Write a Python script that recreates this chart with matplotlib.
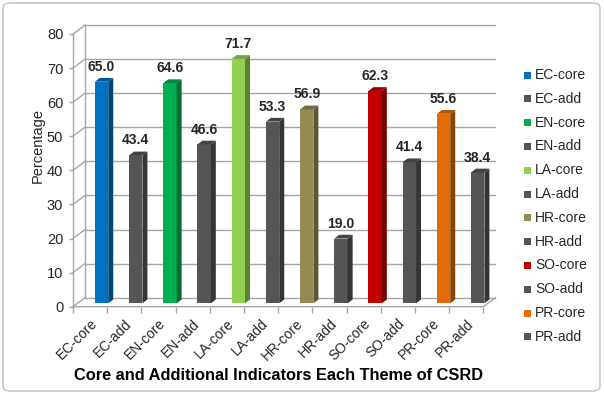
import matplotlib
matplotlib.use("Agg")
import matplotlib.pyplot as plt
from matplotlib.patches import Polygon, Rectangle, FancyBboxPatch
import matplotlib.colors as mcolors
import numpy as np

plt.rcParams['font.family'] = ['Liberation Sans', 'DejaVu Sans']

categories = ["EC-core", "EC-add", "EN-core", "EN-add", "LA-core", "LA-add",
              "HR-core", "HR-add", "SO-core", "SO-add", "PR-core", "PR-add"]
values = [65.0, 43.4, 64.6, 46.6, 71.7, 53.3, 56.9, 19.0, 62.3, 41.4, 55.6, 38.4]
colors = ["#0070C0", "#555555", "#00B050", "#555555", "#92D050", "#555555",
          "#948A54", "#555555", "#C00000", "#555555", "#E36C09", "#555555"]
y_ticks = [0, 10, 20, 30, 40, 50, 60, 70, 80]
xlabel = "Core and Additional Indicators Each Theme of CSRD"
ylabel = "Percentage"

W, H = 604, 394
fig = plt.figure(figsize=(W / 100, H / 100), dpi=100)

# chart border
fig.patches.append(FancyBboxPatch((3 / W, 3 / H), 597 / W, 388 / H,
                                  boxstyle="round,pad=0,rounding_size=0.012",
                                  transform=fig.transFigure, fc="none",
                                  ec="#bfbfbf", lw=1.0, zorder=-1))

ax = fig.add_axes([73 / W, (H - 306.7) / H, 410.4 / W, 272.7 / H])
ax.set_facecolor("none")
ax.set_xlim(-0.5, 11.5)
ax.set_ylim(0, 80)
for s in ax.spines.values():
    s.set_visible(False)

n = len(categories)
DX, DY = 0.351, 2.64          # full depth of the floor / walls
grid_c = "#a6a6a6"

# back wall gridlines and left wall diagonals
for v in y_ticks:
    ax.plot([-0.5 + DX, n - 0.5 + DX], [v + DY, v + DY], color=grid_c, lw=1.0,
            clip_on=False, zorder=1)
    ax.plot([-0.5, -0.5 + DX], [v, v + DY], color=grid_c, lw=1.0, clip_on=False, zorder=1)
ax.plot([-0.5 + DX, -0.5 + DX], [DY, y_ticks[-1] + DY], color=grid_c, lw=1.0,
        clip_on=False, zorder=1)
ax.plot([-0.5, -0.5], [0, y_ticks[-1]], color=grid_c, lw=1.0, clip_on=False, zorder=1)
# floor
ax.plot([-0.5, n - 0.5, n - 0.5 + DX], [0, 0, DY], color=grid_c, lw=1.0,
        clip_on=False, zorder=1)

# bars with pseudo 3D
x = np.arange(n)
off_x, off_y = 0.14, 1.0
bw = 0.39
sx, sy = 0.146, 1.1
ax.bar(x + off_x, values, width=bw, bottom=off_y, align="edge", color=colors,
       edgecolor="none", zorder=3, clip_on=False)
for xi, v, c in zip(x, values, colors):
    rgb = np.array(mcolors.to_rgb(c))
    side = rgb * 0.62
    top = rgb * 0.78
    x0 = xi + off_x
    x1 = x0 + bw
    yb = off_y
    yt = off_y + v
    ax.add_patch(Polygon([[x1, yb], [x1 + sx, yb + sy], [x1 + sx, yt + sy], [x1, yt]],
                         closed=True, fc=side, ec="none", zorder=3, clip_on=False))
    ax.add_patch(Polygon([[x0, yt], [x1, yt], [x1 + sx, yt + sy], [x0 + sx, yt + sy]],
                         closed=True, fc=top, ec="none", zorder=3, clip_on=False))
    ax.annotate(f"{v:.1f}", xy=(x0 + bw / 2, yt + sy), xytext=(0, 8),
                textcoords="offset points", ha="center", va="center",
                fontsize=10, fontweight="bold", color="#262626", zorder=5,
                annotation_clip=False)

# ticks
ax.set_yticks(y_ticks)
ax.set_yticklabels([str(t) for t in y_ticks], fontsize=10.5, color="#262626")
ax.tick_params(axis="y", length=3, width=1, color=grid_c, pad=4)
ax.set_xticks(x)
ax.set_xticklabels(categories, rotation=45, ha="right", rotation_mode="anchor",
                   fontsize=10, color="#262626")
ax.tick_params(axis="x", which="major", length=0, pad=7)
ax.set_xticks(np.arange(-0.5, n, 1.0), minor=True)
ax.tick_params(axis="x", which="minor", length=4, width=1, color=grid_c)

fig.text(279 / W, 1 - 376 / H, xlabel, ha="center", va="center", fontsize=11.8,
         fontweight="bold", color="#000000")
fig.text(38 / W, 1 - 145 / H, ylabel, ha="center", va="center", rotation=90,
         fontsize=10.5, color="#262626")

# legend
for i, (lab, c) in enumerate(zip(categories, colors)):
    yc = 75 + i * 23.8
    fig.patches.append(Rectangle(((527 - 3.5) / W, 1 - (yc + 3.5) / H), 7 / W, 7 / H,
                                 transform=fig.transFigure, fc=c, ec="none"))
    fig.text(535 / W, 1 - yc / H, lab, ha="left", va="center", fontsize=10,
             color="#262626")

fig.savefig("out.png", dpi=100)
